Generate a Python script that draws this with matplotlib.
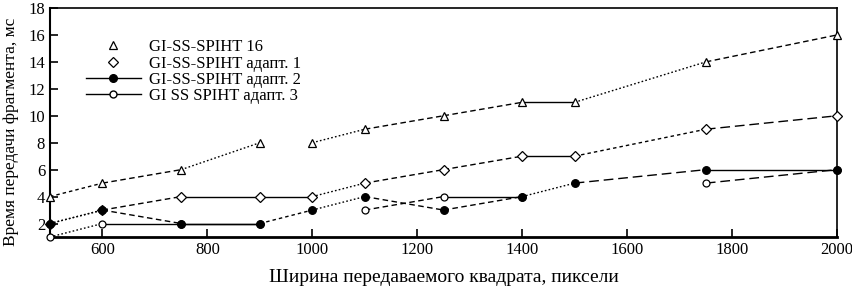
import matplotlib
matplotlib.use('Agg')
import matplotlib.pyplot as plt
from matplotlib.lines import Line2D
import numpy as np

plt.rcParams['font.family'] = ['Liberation Serif', 'DejaVu Serif']

# ширина квадрата, пиксели
razmer = [500, 600, 750, 900, 1000, 1100, 1250, 1400, 1500, 1750, 2000]

# время передачи, мс (nan = нет точки)
spiht16 = [4, 5, 6, 8, 8, 9, 10, 11, 11, 14, 16]
adapt1 = [2, 3, 4, 4, 4, 5, 6, 7, 7, 9, 10]
adapt2 = [2, 3, 2, 2, 3, 4, 3, 4, 5, 6, 6]
adapt3 = [1, 2, 2, 2, np.nan, 3, 4, 4, np.nan, 5, 6]

names = ['GI-SS-SPIHT 16', 'GI-SS-SPIHT адапт. 1',
         'GI-SS-SPIHT адапт. 2', 'GI SS SPIHT адапт. 3']

# стили отрезков между соседними точками
DOT = (0, (1.2, 1.6))
FDASH = (0, (2.5, 2.2))
DASH = (0, (4, 2.5))
LDASH = (0, (7, 3.5))
SOL = '-'
seg16 = [FDASH, DASH, DOT, None, DOT, DASH, DASH, SOL, DOT, DASH]
seg1 = [DOT, DASH, SOL, SOL, DOT, DASH, DASH, SOL, FDASH, LDASH]
seg2 = [DOT, DASH, SOL, FDASH, DOT, DASH, DASH, DOT, LDASH, SOL]
seg3 = [DOT, SOL, SOL, None, None, DASH, SOL, None, None, LDASH]

fig = plt.figure(figsize=(8.52, 2.9), dpi=100)
ax = fig.add_axes([0.0587, 0.1828, 0.9237, 0.7896])


def draw(y, segs, marker, mfc, ms):
    for i, st in enumerate(segs):
        if st is None or np.isnan(y[i]) or np.isnan(y[i + 1]):
            continue
        ax.plot(razmer[i:i + 2], y[i:i + 2], color='black', lw=1.0,
                linestyle=st, zorder=2)
    ax.plot(razmer, y, linestyle='none', marker=marker, color='black',
            mfc=mfc, mec='black', ms=ms, mew=0.9, zorder=3, clip_on=False)


draw(spiht16, seg16, '^', 'white', 6)
draw(adapt1, seg1, 'D', 'white', 5)
draw(adapt3, seg3, 'o', 'white', 5)
draw(adapt2, seg2, 'o', 'black', 5.5)

handles = [
    Line2D([], [], linestyle='none', marker='^', color='black', mfc='white', ms=6, mew=0.9),
    Line2D([], [], linestyle='none', marker='D', color='black', mfc='white', ms=5, mew=0.9),
    Line2D([], [], linestyle='-', lw=1, marker='o', color='black', mfc='black', ms=5.5),
    Line2D([], [], linestyle='-', lw=1, marker='o', color='black', mfc='white', ms=5),
]
ax.legend(handles, names, loc='upper left', bbox_to_anchor=(0.035, 0.9),
          frameon=False, fontsize=12, handlelength=3.3, handletextpad=0.5,
          labelspacing=0.02, borderpad=0)

ax.set_xlim(500, 2000)
ax.set_ylim(1, 18)
ax.set_xticks(range(600, 2001, 200))
ax.set_yticks(range(2, 19, 2))
ax.tick_params(direction='in', length=6, width=1.2, labelsize=12,
               top=False, right=False)
for s in ax.spines.values():
    s.set_linewidth(1.2)
ax.spines['bottom'].set_linewidth(2)
ax.spines['left'].set_linewidth(1.5)

ax.set_xlabel('Ширина передаваемого квадрата, пиксели', fontsize=14, labelpad=8)
ax.set_ylabel('Время передачи фрагмента, мс', fontsize=12.5)
ax.yaxis.set_label_coords(-0.04, 0.46)

fig.savefig('out.png', dpi=100)
